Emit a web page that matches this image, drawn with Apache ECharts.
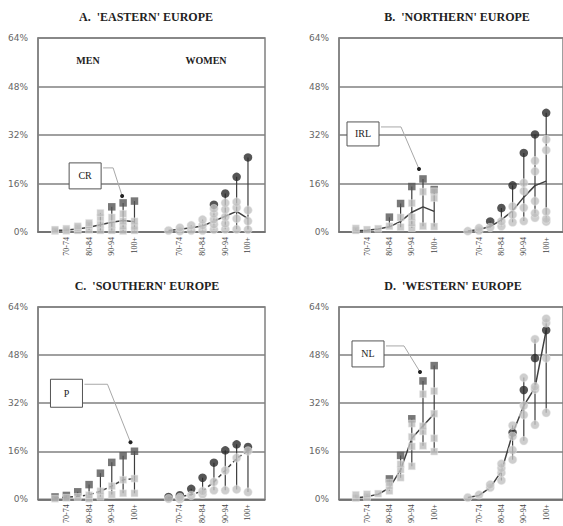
<!DOCTYPE html>
<html><head><meta charset="utf-8">
<script src="https://cdn.jsdelivr.net/npm/echarts@6/dist/echarts.min.js"></script>
<style>html,body{margin:0;padding:0;background:#fff}#c{width:563px;height:526px}</style>
</head><body><div id="c"></div>
<script>
// ---------- DATA ----------
const ages = ['65-69','70-74','75-79','80-84','85-89','90-94','95-99','100+'];
const tickAges = ['70-74','80-84','90-94','100+'];
const yTicks = [0, 16, 32, 48, 64];

// A. Eastern Europe (highlight: CR)
const eastMenOthers = [[0.3,0.8],[0.4,1.1],[0.5,1.3,1.9],[0.7,2.3,3.0],[0.5,2.5,4.8,6.3],[0.5,2.5,4.8],[0.3,1.9,3.5,6.0],[0.5,1.8,3.5]];
const eastMenHigh = [null,null,null,null,null,8.3,9.6,10.2];
const eastMenMean = [0.5,0.7,1.0,1.6,2.4,3.2,3.8,3.4];
const eastWomenOthers = [[0.5],[0.3,1.4],[0.5,2.2],[0.5,2.2,4.1],[0.8,2.5,4.1,6.0,7.7],[0.9,2.8,5.0,7.4,9.6],[0.9,4.4,8.0,9.9],[0.8,3.6,7.2]];
const eastWomenHigh = [null,null,null,null,9.0,12.7,18.2,24.6];
const eastWomenMean = [0.5,0.9,1.4,2.0,3.6,5.2,6.8,4.4];

// B. Northern Europe (highlight: IRL)
const northMenOthers = [[0.5,1.2],[0.8],[1.1],[1.9],[1.6,4.8],[1.3,3.0,4.9,9.5],[1.9,13.3],[1.8,11.2,13.4]];
const northMenHigh = [null,null,null,4.9,9.4,15.0,17.5,14.0];
const northMenMean = [0.4,0.6,1.0,1.7,3.5,6.5,8.3,6.8];
const northWomenOthers = [[0.3],[0.5,1.3],[1.5],[1.9,3.5],[3.2,5.7,8.4],[3.6,8.0,13.5,16.2],[4.7,6.2,10.2,20.0,23.5],[3.4,4.3,6.7,27.0,30.5]];
const northWomenHigh = [null,null,3.5,7.9,15.4,26.1,32.2,39.3];
const northWomenMean = [0.3,0.8,1.8,4.0,7.0,11.5,15.3,16.8];

// C. Southern Europe (highlight: P)
const southMenOthers = [[0.2],[0.5],[0.8],[0.2,1.4],[0.9,2.7],[1.6,4.4],[2.0,6.5],[2.0,6.9]];
const southMenHigh = [0.8,1.3,2.5,4.9,8.7,12.3,14.5,16.0];
const southMenMean = [0.4,0.7,1.0,1.5,2.7,4.4,6.5,6.9];
const southWomenOthers = [[0.2],[0.1,0.6],[1.3],[1.7,2.7],[3.0,5.8],[3.0,9.6],[3.3,13.8],[2.4,16.1]];
const southWomenHigh = [0.8,1.4,3.5,7.2,12.2,16.3,18.3,17.4];
const southWomenMean = [0.5,0.8,1.6,2.7,5.8,9.6,13.6,16.1];

// D. Western Europe (highlight: NL)
const westMenOthers = [[0.4,1.5],[0.8,1.7],[1.9],[2.8,4.5,5.5],[7.2,9.9,11.7],[11.0,17.6,20.8,25.2],[17.8,22.6,24.3,35.0],[15.9,20.3,28.5,36.0]];
const westMenHigh = [null,null,null,6.8,14.6,26.8,39.4,44.5];
const westMenMean = [0.5,0.9,1.7,3.8,9.8,20.3,24.4,28.5];
const westWomenOthers = [[0.6],[1.5],[3.9,4.9],[6.3,8.8,10.4,11.8],[13.2,16.4,21.0,24.6],[19.5,28.1,31.2,40.5],[24.8,36.6,37.5,53.3],[28.8,47.0,58.7,60.1]];
const westWomenHigh = [null,null,null,null,22.2,36.4,47.0,56.3];
const westWomenMean = [0.6,1.3,3.9,9.3,21.9,31.2,37.2,56.3];

// ---------- PANELS ----------
const panels = [
  {title:"A.  'EASTERN' EUROPE", tx:146, ty:17, grid:{left:38, top:38, width:227, height:194},
   men:[eastMenOthers,eastMenHigh,eastMenMean], women:[eastWomenOthers,eastWomenHigh,eastWomenMean], dashed:false,
   annot:{label:'CR', age:'95-99', dot:[-1,-7], box:[-37,-20], w:32, h:26, bend:10}},
  {title:"B.  'NORTHERN' EUROPE", tx:457, ty:17, grid:{left:339, top:38, width:227, height:194},
   men:[northMenOthers,northMenHigh,northMenMean], women:[northWomenOthers,northWomenHigh,northWomenMean], dashed:false,
   annot:{label:'IRL', age:'95-99', dot:[-4,-10], box:[-56,-35], w:32, h:24, bend:20}},
  {title:"C.  'SOUTHERN' EUROPE", tx:147, ty:286, grid:{left:38, top:307, width:227, height:195},
   men:[southMenOthers,southMenHigh,southMenMean], women:[southWomenOthers,southWomenHigh,southWomenMean], dashed:true,
   annot:{label:'P', age:'100+', dot:[-4,-9], box:[-64,-49], w:32, h:28, bend:23}},
  {title:"D.  'WESTERN' EUROPE", tx:453, ty:286, grid:{left:339, top:307, width:227, height:195},
   men:[westMenOthers,westMenHigh,westMenMean], women:[westWomenOthers,westWomenHigh,westWomenMean], dashed:false,
   annot:{label:'NL', age:'95-99', dot:[-3,-9], box:[-52,-18], w:32, h:26, bend:18}}
];

const xCats = ['pad0'].concat(ages.map(a=>'M|'+a), ['gap1','gap2'], ages.map(a=>'W|'+a), ['pad1']);
const menIdx = i => 1 + i;
const womenIdx = i => 11 + i;

const grids = [], xAxes = [], yAxes = [], series = [], graphics = [];
const GRID = '#808080';

panels.forEach((p, k) => {
  grids.push(Object.assign({show:true, borderColor:GRID, borderWidth:1.5, backgroundColor:'transparent'}, p.grid));
  xAxes.push({type:'category', gridIndex:k, data:xCats,
    axisLine:{show:true, lineStyle:{color:'#6e6e6e', width:1.5}}, axisTick:{show:false},
    splitLine:{show:false},
    axisLabel:{interval:0, rotate:90, fontFamily:'Liberation Serif', fontSize:8, color:'#444', margin:5,
      formatter:v => { const s = v.split('|'); return (s.length===2 && tickAges.includes(s[1])) ? s[1] : ''; }}});
  yAxes.push({type:'value', gridIndex:k, min:yTicks[0], max:yTicks[yTicks.length-1], interval:16,
    axisLine:{show:true, lineStyle:{color:GRID, width:1.5}}, axisTick:{show:false},
    splitLine:{show:true, lineStyle:{color:GRID, width:1.5}},
    axisLabel:{formatter:'{value}%', fontFamily:'DejaVu Sans', fontSize:9, color:'#666', margin:10}});

  const ranges = [], grayM = [], grayW = [], darkM = [], darkW = [], meanM = [], meanW = [];
  [['M', p.men, menIdx, grayM, darkM, meanM], ['W', p.women, womenIdx, grayW, darkW, meanW]].forEach(([sx, d, idx, gray, dark, mean]) => {
    const [others, high, mn] = d;
    ages.forEach((a, i) => {
      const vals = others[i].slice();
      others[i].forEach(v => gray.push([idx(i), v]));
      if (high[i] != null) { dark.push([idx(i), high[i]]); vals.push(high[i]); }
      ranges.push([idx(i), Math.min(...vals), Math.max(...vals)]);
      mean.push([idx(i), mn[i]]);
    });
  });

  series.push({type:'custom', xAxisIndex:k, yAxisIndex:k, z:2, silent:true, data:ranges,
    encode:{x:0, y:[1,2]},
    renderItem:(params, api) => {
      const a = api.coord([api.value(0), api.value(1)]);
      const b = api.coord([api.value(0), api.value(2)]);
      return {type:'line', shape:{x1:a[0], y1:a[1], x2:b[0], y2:b[1]}, style:{stroke:'#3d3d3d', lineWidth:1.2}};
    }});
  [meanM, meanW].forEach(m => series.push({type:'line', xAxisIndex:k, yAxisIndex:k, z:3, data:m, symbol:'none', silent:true,
    lineStyle:{color:'#404040', width:1.5, type: p.dashed ? [4,3] : 'solid'}}));
  series.push({type:'scatter', xAxisIndex:k, yAxisIndex:k, z:4, data:darkM, symbol:'rect', symbolSize:7.5,
    itemStyle:{color:'#565656'}});
  series.push({type:'scatter', xAxisIndex:k, yAxisIndex:k, z:4, data:darkW, symbol:'circle', symbolSize:8.5,
    itemStyle:{color:'#2a2a2a'}});
  series.push({type:'scatter', xAxisIndex:k, yAxisIndex:k, z:5, data:grayM, symbol:'rect', symbolSize:7,
    itemStyle:{color:'#bdbdbd', borderColor:'#ececec', borderWidth:0.6}});
  series.push({type:'scatter', xAxisIndex:k, yAxisIndex:k, z:5, data:grayW, symbol:'circle', symbolSize:8.5,
    itemStyle:{color:'#c2c2c2', borderColor:'#ececec', borderWidth:0.6}});

  // annotation, anchored to the highlighted men's value at the named age
  const an = p.annot;
  const ai = ages.indexOf(an.age);
  series.push({type:'custom', xAxisIndex:k, yAxisIndex:k, z:10, silent:true, data:[[menIdx(ai), p.men[1][ai]]],
    encode:{x:0, y:1},
    renderItem:(params, api) => {
      const q = api.coord([api.value(0), api.value(1)]);
      const dot = [q[0] + an.dot[0], q[1] + an.dot[1]];
      const cx = dot[0] + an.box[0], cy = dot[1] + an.box[1];
      const sx = cx + an.w/2 + 2, sy = cy - an.h/2 + 5;
      return {type:'group', children:[
        {type:'polyline', shape:{points:[[sx,sy],[sx+an.bend,sy],dot]}, style:{stroke:'#a8a8a8', lineWidth:1, fill:null}},
        {type:'circle', shape:{cx:dot[0], cy:dot[1], r:2}, style:{fill:'#222'}},
        {type:'rect', shape:{x:cx-an.w/2, y:cy-an.h/2, width:an.w, height:an.h}, style:{fill:'#fff', stroke:'#555', lineWidth:1}},
        {type:'text', style:{text:an.label, x:cx, y:cy, align:'center', verticalAlign:'middle', fontFamily:'Liberation Serif', fontSize:10, fill:'#222'}}
      ]};
    }});

  graphics.push({type:'text', x:p.tx, y:p.ty, style:{text:p.title, align:'center', verticalAlign:'middle',
    fontFamily:'Liberation Serif', fontWeight:'bold', fontSize:12, fill:'#222'}});
});

graphics.push({type:'text', x:88, y:60, style:{text:'MEN', align:'center', verticalAlign:'middle', fontFamily:'Liberation Serif', fontWeight:'bold', fontSize:10, fill:'#222'}});
graphics.push({type:'text', x:206, y:60, style:{text:'WOMEN', align:'center', verticalAlign:'middle', fontFamily:'Liberation Serif', fontWeight:'bold', fontSize:10, fill:'#222'}});

const chart = echarts.init(document.getElementById('c'), null, {renderer:'svg'});
chart.setOption({animation:false, backgroundColor:'#fff', grid:grids, xAxis:xAxes, yAxis:yAxes, series:series, graphic:graphics});
</script></body></html>
